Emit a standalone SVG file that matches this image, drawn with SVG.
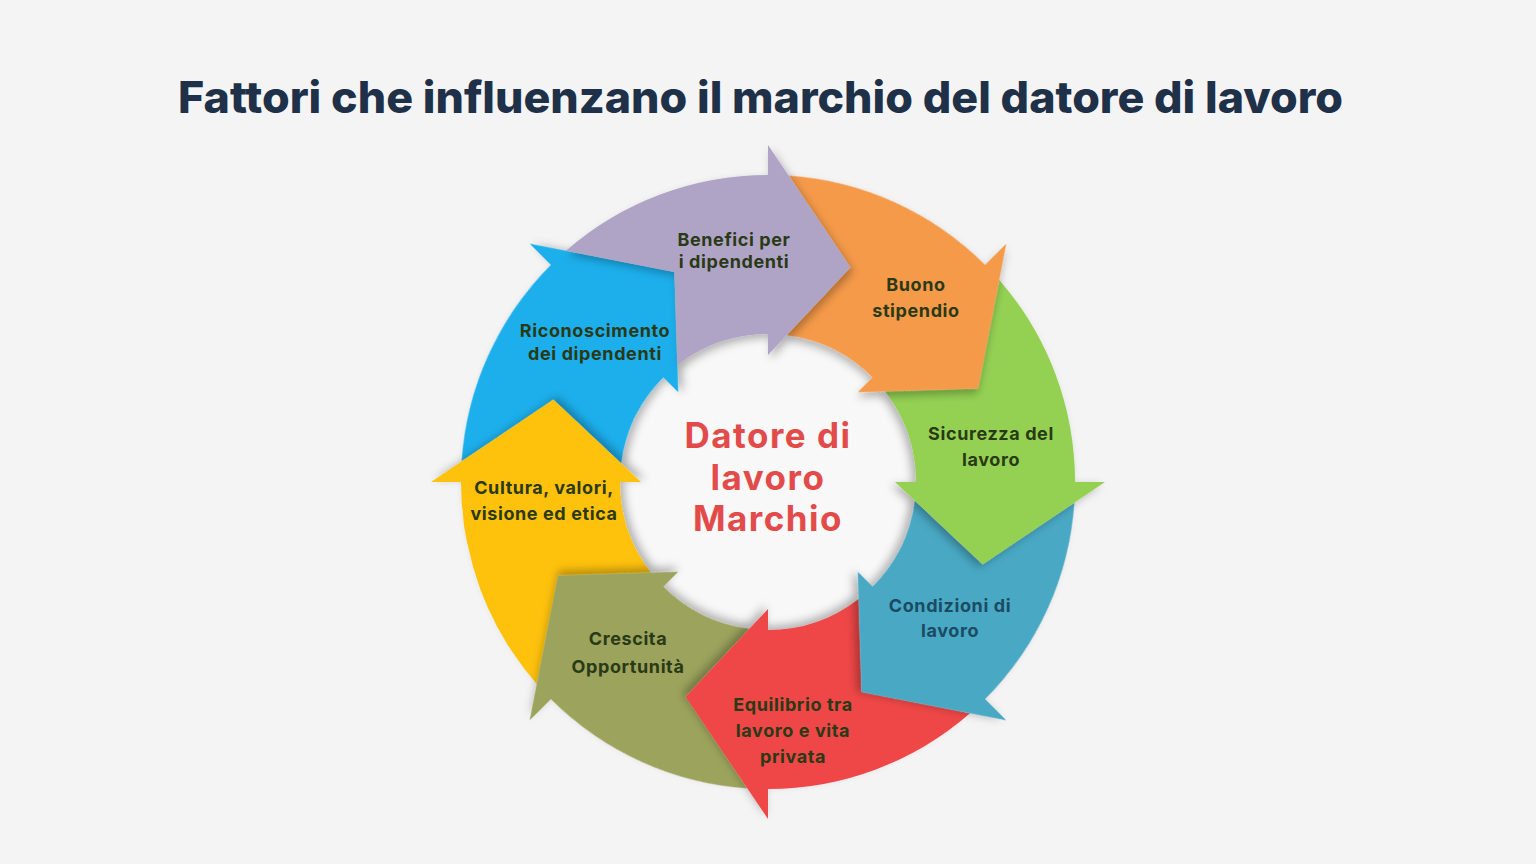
<svg xmlns="http://www.w3.org/2000/svg" xmlns:xlink="http://www.w3.org/1999/xlink" width="1536" height="864" viewBox="0 0 1536 864">
  <style>
    .title { font-family: "Inter", "Open Sans", "Liberation Sans", sans-serif; font-weight: 800; font-size: 44px; fill: #1F3049; }
    .lbl { font-family: "Inter", "Open Sans", "Liberation Sans", sans-serif; font-weight: 700; font-size: 18px; letter-spacing: 0.6px; fill: #2A3916; text-anchor: middle; }
    .lbl-teal { fill: #1B4B62; }
    .center { font-family: "Inter", "Open Sans", "Liberation Sans", sans-serif; font-weight: 700; font-size: 35px; letter-spacing: 1.5px; fill: #E24B4A; text-anchor: middle; }
    .arrow { filter: url(#sh); }
  </style>
  <defs>
    <filter id="sh" x="-30%" y="-30%" width="160%" height="160%">
      <feDropShadow dx="3" dy="4" stdDeviation="4" flood-color="#000000" flood-opacity="0.28"/>
    </filter>
    <path id="arrowShape" d="M -201.98,-231.20 A 307 307 0 0 1 0,-307 L 0,-337 L 82.42,-214.72 L 0,-127 L 0,-148 A 148 148 0 0 0 -90.65,-116.98 L -93.55,-210.11 Z"/>
  </defs>

  <rect x="0" y="0" width="1536" height="864" fill="#F4F4F4"/>

  <text class="title" x="178" y="113" textLength="1165" lengthAdjust="spacingAndGlyphs">Fattori che influenzano il marchio del datore di lavoro</text>

  <g id="center-disc">
    <circle cx="768" cy="482" r="150" fill="#F8F8F8"/>
  </g>

  <g id="node-riconoscimento">
    <use xlink:href="#arrowShape" class="arrow" fill="#1BAFEC" transform="translate(768,482) rotate(315)"/>
    <text class="lbl" x="595" y="337">Riconoscimento</text>
    <text class="lbl" x="595" y="360">dei dipendenti</text>
  </g>
  <g id="node-cultura">
    <use xlink:href="#arrowShape" class="arrow" fill="#FEC20E" transform="translate(768,482) rotate(270)"/>
    <text class="lbl" x="544" y="494">Cultura, valori,</text>
    <text class="lbl" x="544" y="520">visione ed etica</text>
  </g>
  <g id="node-crescita">
    <use xlink:href="#arrowShape" class="arrow" fill="#9BA35B" transform="translate(768,482) rotate(225)"/>
    <text class="lbl" x="628" y="645">Crescita</text>
    <text class="lbl" x="628" y="673">Opportunità</text>
  </g>
  <g id="node-equilibrio">
    <use xlink:href="#arrowShape" class="arrow" fill="#EF4646" transform="translate(768,482) rotate(180)"/>
    <text class="lbl" x="793" y="711">Equilibrio tra</text>
    <text class="lbl" x="793" y="737">lavoro e vita</text>
    <text class="lbl" x="793" y="763">privata</text>
  </g>
  <g id="node-condizioni">
    <use xlink:href="#arrowShape" class="arrow" fill="#4AA8C4" transform="translate(768,482) rotate(135)"/>
    <text class="lbl lbl-teal" x="950" y="612">Condizioni di</text>
    <text class="lbl lbl-teal" x="950" y="637">lavoro</text>
  </g>
  <g id="node-sicurezza">
    <use xlink:href="#arrowShape" class="arrow" fill="#94D152" transform="translate(768,482) rotate(90)"/>
    <text class="lbl" x="991" y="440">Sicurezza del</text>
    <text class="lbl" x="991" y="466">lavoro</text>
  </g>
  <g id="node-buono">
    <use xlink:href="#arrowShape" class="arrow" fill="#F59A4A" transform="translate(768,482) rotate(45)"/>
    <text class="lbl" x="916" y="291">Buono</text>
    <text class="lbl" x="916" y="317">stipendio</text>
  </g>
  <g id="node-benefici">
    <use xlink:href="#arrowShape" class="arrow" fill="#B0A4C6" transform="translate(768,482)"/>
    <text class="lbl" x="734" y="246">Benefici per</text>
    <text class="lbl" x="734" y="268">i dipendenti</text>
  </g>

  <g id="node-center">
    <text class="center" x="768" y="448">Datore di</text>
    <text class="center" x="768" y="490">lavoro</text>
    <text class="center" x="768" y="531">Marchio</text>
  </g>
</svg>
